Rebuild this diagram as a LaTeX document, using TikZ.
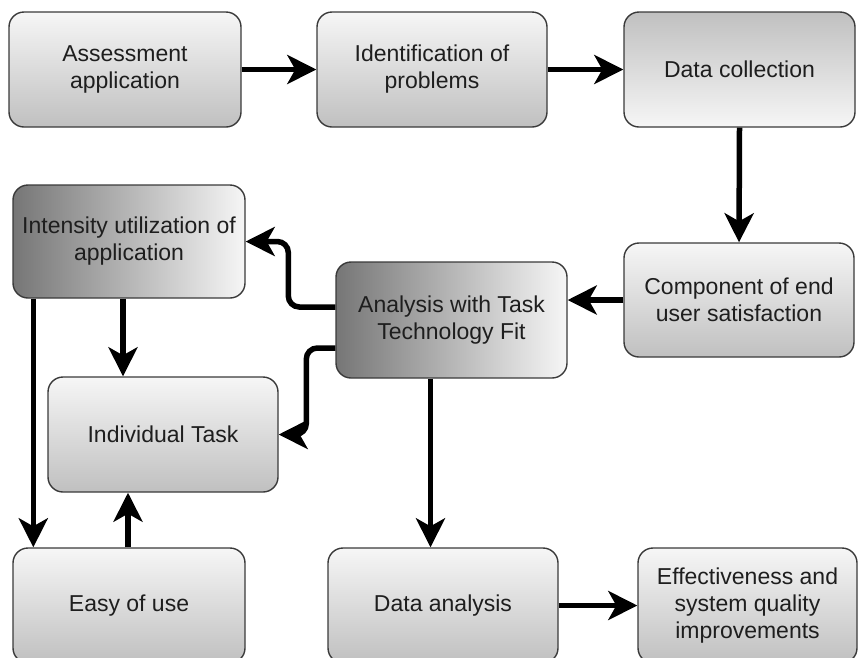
\documentclass[tikz,border=0pt]{standalone}
\usepackage{fontspec}
\setmainfont{Liberation Sans}
\usetikzlibrary{arrows.meta}
\definecolor{edgegray}{HTML}{3A3A3A}
\definecolor{textgray}{HTML}{1E1E1E}
\definecolor{shadelight}{HTML}{F6F6F6}
\definecolor{shademid}{HTML}{C0C0C0}
\definecolor{shadedark}{HTML}{767676}
\tikzset{
  box/.style={draw=edgegray, line width=1.4pt, rounded corners=15pt, align=center,
    text=textgray, font=\fontsize{23}{27}\selectfont, inner sep=0pt,
    minimum width=231pt, minimum height=115pt},
  vdown/.style={box, top color=shadelight, bottom color=shademid},
  vup/.style={box, top color=shademid, bottom color=shadelight},
  hdark/.style={box, left color=shadedark, right color=shadelight},
  arr/.style={line width=5.5pt, -{Stealth[length=29pt,width=29pt,inset=8pt]}},
  elbowarr/.style={arr, rounded corners=11pt},
}
\begin{document}
\begin{tikzpicture}[x=1pt,y=-1pt]
\useasboundingbox (0,0) rectangle (858,657);
\clip (0,0) rectangle (858,657);

% process boxes
\node[vdown, minimum width=232pt] (assess) at (125,69.5) {Assessment\\application};
\node[vdown, minimum width=230pt] (ident) at (432,69.5) {Identification of\\problems};
\node[vup] (collect) at (739.5,69.5) {Data collection};
\node[vdown, minimum width=230pt, minimum height=114pt] (comp) at (739,300) {Component of end\\user satisfaction};
\node[hdark, minimum height=116pt] (analysis) at (451.5,320) {Analysis with Task\\Technology Fit};
\node[hdark, minimum width=232pt, minimum height=113pt] (intens) at (129,241.5) {Intensity utilization of\\application};
\node[vdown, minimum width=230pt] (indiv) at (163,434.5) {Individual Task};
\node[vdown, minimum width=232pt] (easy) at (129,605.5) {Easy of use};
\node[vdown, minimum width=230pt] (dana) at (443,605.5) {Data analysis};
\node[vdown, minimum width=219pt] (effect) at (747.5,605.5) {Effectiveness and\\system quality\\improvements};

% connectors
\draw[arr] (assess.east) -- (ident.west);
\draw[arr] (ident.east) -- (collect.west);
\draw[arr] (collect.south) -- (comp.north);
\draw[arr] (comp.west) -- (comp.west -| analysis.east);
\draw[elbowarr] ([yshift=13pt]analysis.west) -- ++(-47,0) |- (intens.east);
\draw[elbowarr] ([yshift=-28pt]analysis.west) -- ++(-29,0) |- (indiv.east);
\draw[arr] ([xshift=-6pt]intens.south) -- ([xshift=-6pt]intens.south |- indiv.north);
\draw[arr] ([xshift=21pt]intens.south west) -- ([xshift=21pt]intens.south west |- easy.north);
\draw[arr] ([xshift=-1pt]easy.north) -- ([xshift=-1pt]easy.north |- indiv.south);
\draw[arr] ([xshift=-21pt]analysis.south) -- ([xshift=-21pt]analysis.south |- dana.north);
\draw[arr] (dana.east) -- (effect.west);
\end{tikzpicture}
\end{document}
